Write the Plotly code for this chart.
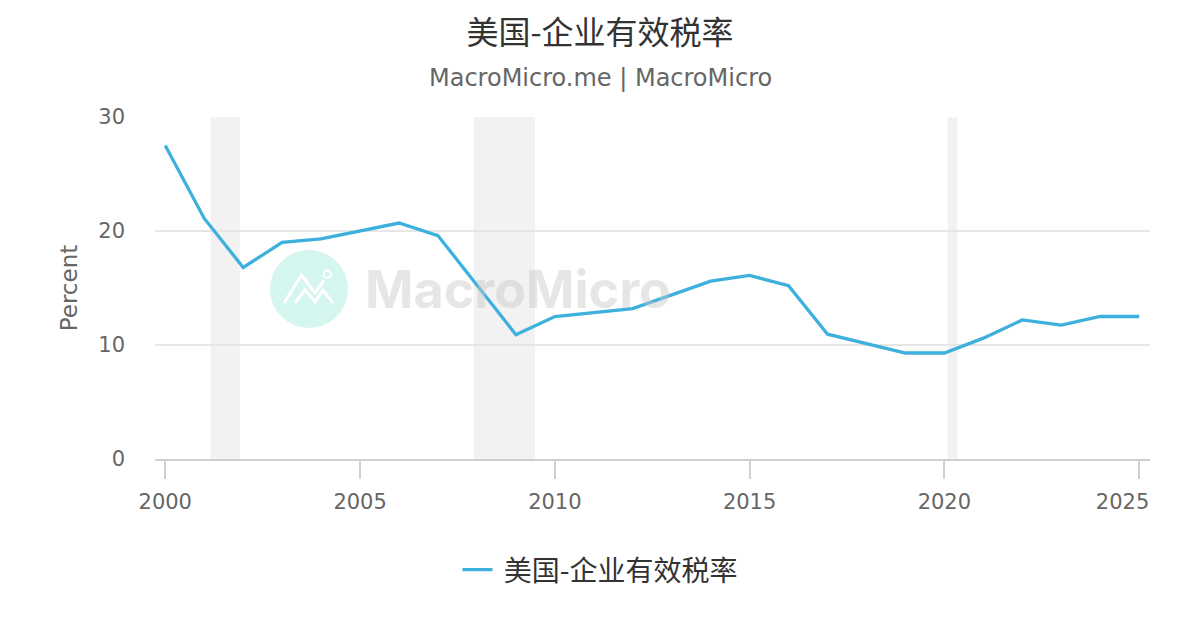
import plotly.graph_objects as go

# ---- data ----
years = [2000, 2001, 2002, 2003, 2004, 2005, 2006, 2007, 2008, 2009, 2010, 2011, 2012,
         2013, 2014, 2015, 2016, 2017, 2018, 2019, 2020, 2021, 2022, 2023, 2024, 2025]
tax_rate = [27.5, 21.1, 16.8, 19.0, 19.3, 20.0, 20.7, 19.6, 15.3, 10.9, 12.5, 12.85, 13.2,
            14.4, 15.6, 16.1, 15.2, 10.95, 10.1, 9.3, 9.3, 10.6, 12.2, 11.75, 12.5, 12.5]
dates = [f"{y}-01-01" for y in years]
recession_start = ["2001-03-01", "2007-12-01", "2020-02-01"]
recession_end = ["2001-11-30", "2009-06-30", "2020-04-30"]
series_name = "美国-企业有效税率"
title_text = "美国-企业有效税率"
subtitle_text = "MacroMicro.me | MacroMicro"
tick_years = [2000, 2005, 2010, 2015, 2020, 2025]

# ---- layout geometry (pixels, page offset of 8px body margin) ----
OFF = 8
W, H = 1200 - OFF, 630 - OFF
L, T = 155 - OFF, 117 - OFF
R, B = W - (1150 - OFF), H - (459 - OFF)
PW, PH = W - L - R, H - T - B
CX = (600 - OFF) / W  # page centre in container coords


def px(x, y):
    return (x - OFF - L) / PW, (H - B - (y - OFF)) / PH


fig = go.Figure()
fig.add_trace(go.Scatter(
    x=dates, y=tax_rate, mode="lines", name="\u00a0" + series_name,
    line=dict(color="#3DB0DD", width=3.3),
))

shapes = []
for s, e in zip(recession_start, recession_end):
    shapes.append(dict(type="rect", xref="x", yref="paper", x0=s, x1=e, y0=0, y1=1,
                       fillcolor="#f2f2f2", line=dict(width=0), layer="below"))

# watermark circle
cx0, cy0 = px(270, 328)
cx1, cy1 = px(348, 250)
shapes.append(dict(type="circle", xref="paper", yref="paper", x0=cx0, y0=cy0, x1=cx1, y1=cy1,
                   fillcolor="#d5f5ef", line=dict(width=0), layer="below"))


def path(points):
    p = []
    for i, (x, y) in enumerate(points):
        a, b = px(x, y)
        p.append(("M" if i == 0 else "L") + f"{a:.5f},{b:.5f}")
    return " ".join(p)


shapes.append(dict(type="path", xref="paper", yref="paper",
                   path=path([(284, 303), (301.5, 275), (315, 293), (324, 280)]),
                   line=dict(color="white", width=3), layer="below"))
shapes.append(dict(type="path", xref="paper", yref="paper",
                   path=path([(295, 303), (305, 290), (315, 302), (323, 290), (333, 303)]),
                   line=dict(color="white", width=3), layer="below"))
ox0, oy0 = px(323.5, 278)
ox1, oy1 = px(331, 270.5)
shapes.append(dict(type="circle", xref="paper", yref="paper", x0=ox0, y0=oy0, x1=ox1, y1=oy1,
                   fillcolor="#d5f5ef", line=dict(color="white", width=2), layer="below"))

wx, wy = px(518, 289)
sx, sy = px(600, 78)
lx, ly = px(600, 570)
annotations = [
    dict(text="MacroMicro", xref="paper", yref="paper", x=wx, y=wy, showarrow=False,
         xanchor="center", yanchor="middle",
         font=dict(family="Inter, Lato, sans-serif", size=52, color="rgba(200,200,200,0.45)", weight="bold")),
    dict(text=subtitle_text, xref="paper", yref="paper", x=sx, y=sy, showarrow=False,
         xanchor="center", yanchor="middle",
         font=dict(family="DejaVu Sans", size=24, color="#666666")),
]

# last label is kept inside the plot edge, as in the original
tick_text = [str(y) for y in tick_years]
tick_text[-1] = tick_text[-1] + "\u00a0" * 5

fig.update_layout(
    width=W, height=H,
    margin=dict(l=L, r=R, t=T, b=B),
    paper_bgcolor="white", plot_bgcolor="white",
    font=dict(family="DejaVu Sans, Noto Sans CJK SC", color="#666666"),
    title=dict(text=title_text, x=CX, xanchor="center", xref="container",
               y=1 - (33 - OFF) / H, yanchor="middle", yref="container",
               font=dict(family="Noto Sans CJK SC", size=32, color="#333333")),
    shapes=shapes,
    annotations=annotations,
    showlegend=True,
    legend=dict(orientation="h", x=lx, xanchor="center", y=ly, yanchor="middle",
                font=dict(family="Noto Sans CJK SC", size=28, color="#333333"),
                itemwidth=30),
    xaxis=dict(
        type="date",
        range=["1999-09-27", "2025-04-12"],
        tickvals=[f"{y}-01-01" for y in tick_years],
        ticktext=tick_text,
        showgrid=False, showline=True, linecolor="#d0d0d0", linewidth=1.5,
        ticks="outside", ticklen=18, tickcolor="#d0d0d0", tickwidth=1.5,
        ticklabelstandoff=5,
        tickfont=dict(family="DejaVu Sans", size=21, color="#666666"),
        zeroline=False,
    ),
    yaxis=dict(
        range=[0, 30], tickvals=[0, 10, 20, 30],
        showgrid=True, gridcolor="#e6e6e6", gridwidth=1.5,
        zeroline=False, showline=False,
        ticks="", ticklabelstandoff=29,
        tickfont=dict(family="DejaVu Sans", size=21, color="#666666"),
        title=dict(text="Percent", font=dict(family="DejaVu Sans", size=23, color="#666666"), standoff=14),
    ),
)

fig.write_html("out.html")
